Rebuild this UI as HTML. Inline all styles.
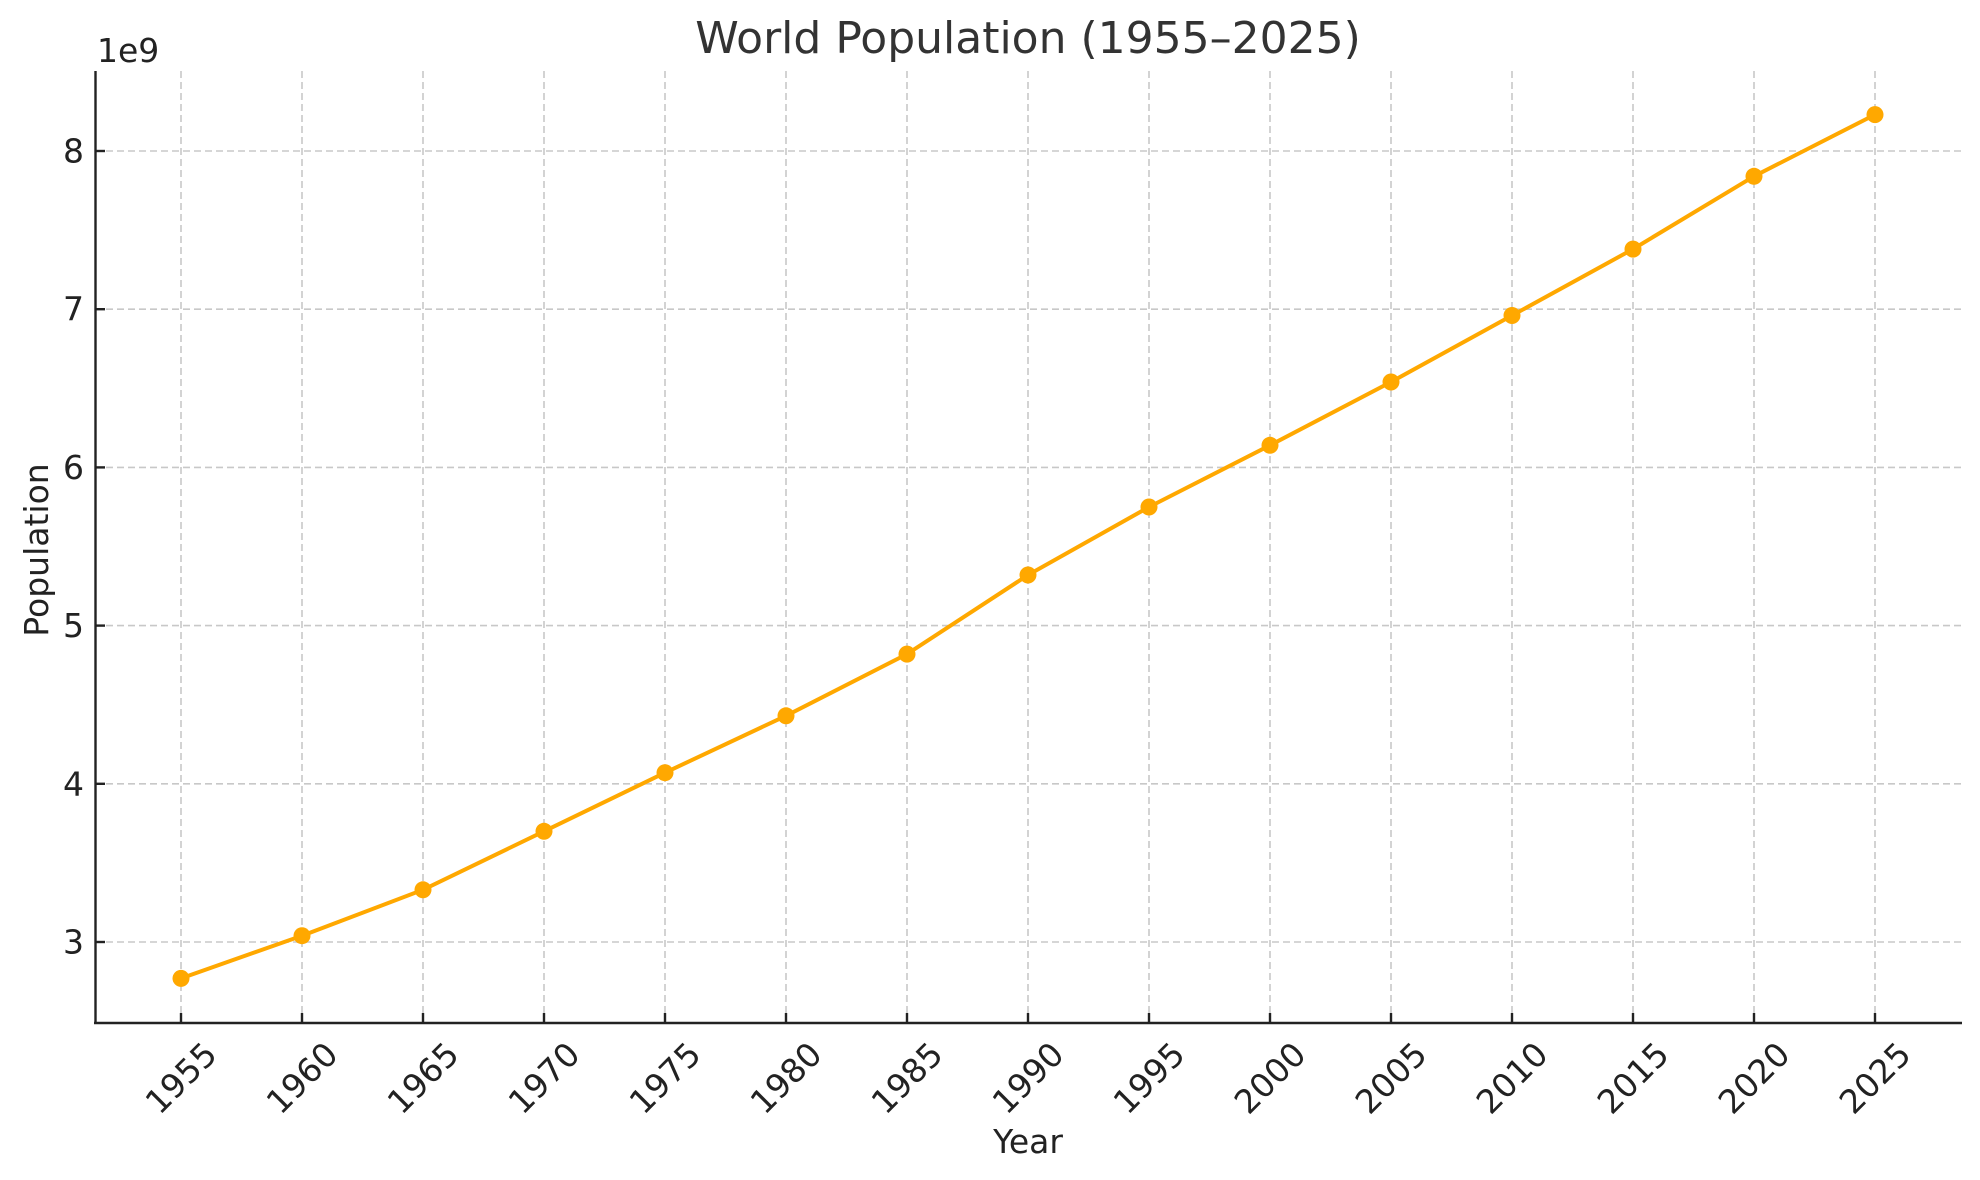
<!DOCTYPE html>
<html><head><meta charset="utf-8"><style>
html,body{margin:0;padding:0;background:#fff;}
svg{display:block;font-family:"DejaVu Sans","Liberation Sans",sans-serif;}
</style></head><body>
<svg width="1980" height="1180" viewBox="0 0 1980 1180" xmlns="http://www.w3.org/2000/svg">
<rect width="1980" height="1180" fill="#fff"/>
<g stroke="#c8c8c8" stroke-width="1.6" stroke-dasharray="7,4" fill="none">
<line x1="181" y1="71" x2="181" y2="1023"/><line x1="302" y1="71" x2="302" y2="1023"/><line x1="423" y1="71" x2="423" y2="1023"/><line x1="544" y1="71" x2="544" y2="1023"/><line x1="665" y1="71" x2="665" y2="1023"/><line x1="786" y1="71" x2="786" y2="1023"/><line x1="907" y1="71" x2="907" y2="1023"/><line x1="1028" y1="71" x2="1028" y2="1023"/><line x1="1149" y1="71" x2="1149" y2="1023"/><line x1="1270" y1="71" x2="1270" y2="1023"/><line x1="1391" y1="71" x2="1391" y2="1023"/><line x1="1512" y1="71" x2="1512" y2="1023"/><line x1="1633" y1="71" x2="1633" y2="1023"/><line x1="1754" y1="71" x2="1754" y2="1023"/><line x1="1875" y1="71" x2="1875" y2="1023"/>
<line x1="95" y1="151" x2="1962" y2="151"/><line x1="95" y1="309.2" x2="1962" y2="309.2"/><line x1="95" y1="467.4" x2="1962" y2="467.4"/><line x1="95" y1="625.6" x2="1962" y2="625.6"/><line x1="95" y1="783.8" x2="1962" y2="783.8"/><line x1="95" y1="942" x2="1962" y2="942"/>
</g>
<g stroke="#222" stroke-width="2.4" fill="none">
<line x1="95.5" y1="71" x2="95.5" y2="1024"/><line x1="94" y1="1023" x2="1962" y2="1023"/>
<line x1="95" y1="151" x2="105" y2="151"/><line x1="95" y1="309.2" x2="105" y2="309.2"/><line x1="95" y1="467.4" x2="105" y2="467.4"/><line x1="95" y1="625.6" x2="105" y2="625.6"/><line x1="95" y1="783.8" x2="105" y2="783.8"/><line x1="95" y1="942" x2="105" y2="942"/>
<line x1="181" y1="1023" x2="181" y2="1013"/><line x1="302" y1="1023" x2="302" y2="1013"/><line x1="423" y1="1023" x2="423" y2="1013"/><line x1="544" y1="1023" x2="544" y2="1013"/><line x1="665" y1="1023" x2="665" y2="1013"/><line x1="786" y1="1023" x2="786" y2="1013"/><line x1="907" y1="1023" x2="907" y2="1013"/><line x1="1028" y1="1023" x2="1028" y2="1013"/><line x1="1149" y1="1023" x2="1149" y2="1013"/><line x1="1270" y1="1023" x2="1270" y2="1013"/><line x1="1391" y1="1023" x2="1391" y2="1013"/><line x1="1512" y1="1023" x2="1512" y2="1013"/><line x1="1633" y1="1023" x2="1633" y2="1013"/><line x1="1754" y1="1023" x2="1754" y2="1013"/><line x1="1875" y1="1023" x2="1875" y2="1013"/>
</g>
<g fill="#222" font-size="33" text-anchor="end" dominant-baseline="central">
<text x="84" y="151">8</text><text x="84" y="309.2">7</text><text x="84" y="467.4">6</text><text x="84" y="625.6">5</text><text x="84" y="783.8">4</text><text x="84" y="942">3</text>
</g>
<text x="97" y="62" font-size="33" fill="#222">1e9</text>
<g fill="#222" font-size="33" text-anchor="middle" dominant-baseline="central">
<text transform="translate(181,1078) rotate(-45)">1955</text><text transform="translate(302,1078) rotate(-45)">1960</text><text transform="translate(423,1078) rotate(-45)">1965</text><text transform="translate(544,1078) rotate(-45)">1970</text><text transform="translate(665,1078) rotate(-45)">1975</text><text transform="translate(786,1078) rotate(-45)">1980</text><text transform="translate(907,1078) rotate(-45)">1985</text><text transform="translate(1028,1078) rotate(-45)">1990</text><text transform="translate(1149,1078) rotate(-45)">1995</text><text transform="translate(1270,1078) rotate(-45)">2000</text><text transform="translate(1391,1078) rotate(-45)">2005</text><text transform="translate(1512,1078) rotate(-45)">2010</text><text transform="translate(1633,1078) rotate(-45)">2015</text><text transform="translate(1754,1078) rotate(-45)">2020</text><text transform="translate(1875,1078) rotate(-45)">2025</text>
</g>
<text x="1028" y="1153" font-size="33" fill="#222" text-anchor="middle">Year</text>
<text transform="translate(48,550) rotate(-90)" font-size="33" fill="#222" text-anchor="middle">Population</text>
<text x="1028" y="53" font-size="44" fill="#333" text-anchor="middle">World Population (1955–2025)</text>
<polyline fill="none" stroke="#FFA800" stroke-width="4" stroke-linejoin="round" points="181,978.4 302,935.7 423,889.8 544,831.3 665,772.7 786,715.8 907,654.1 1028,575 1149,507 1270,445.3 1391,382 1512,315.5 1633,249.1 1754,176.3 1875,114.6"/>
<g fill="#FFA800">
<circle cx="181" cy="978.4" r="8.5"/><circle cx="302" cy="935.7" r="8.5"/><circle cx="423" cy="889.8" r="8.5"/><circle cx="544" cy="831.3" r="8.5"/><circle cx="665" cy="772.7" r="8.5"/><circle cx="786" cy="715.8" r="8.5"/><circle cx="907" cy="654.1" r="8.5"/><circle cx="1028" cy="575" r="8.5"/><circle cx="1149" cy="507" r="8.5"/><circle cx="1270" cy="445.3" r="8.5"/><circle cx="1391" cy="382" r="8.5"/><circle cx="1512" cy="315.5" r="8.5"/><circle cx="1633" cy="249.1" r="8.5"/><circle cx="1754" cy="176.3" r="8.5"/><circle cx="1875" cy="114.6" r="8.5"/>
</g>
</svg>
</body></html>
